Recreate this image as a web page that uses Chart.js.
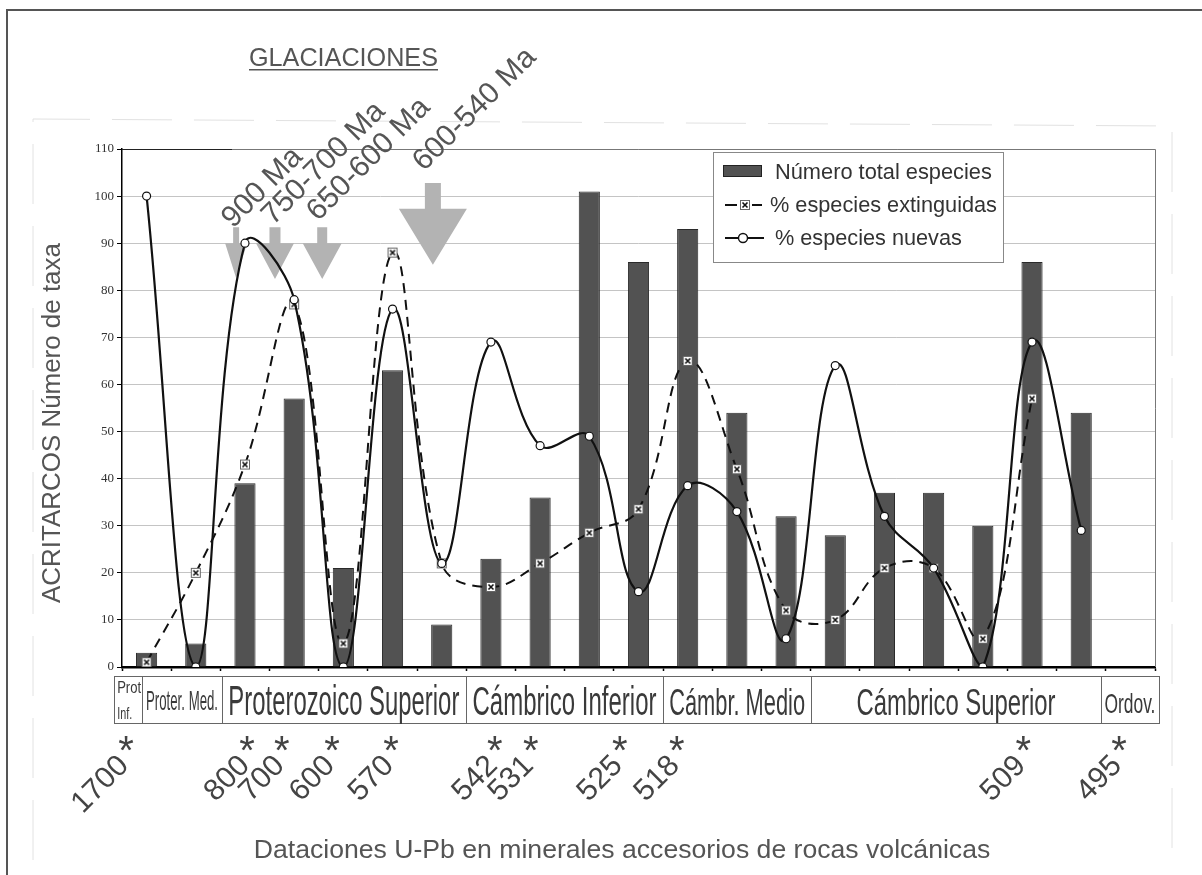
<!DOCTYPE html>
<html>
<head>
<meta charset="utf-8">
<script src="https://cdn.jsdelivr.net/npm/chart.js@4.4.0/dist/chart.umd.min.js"></script>
<style>
  html, body { margin: 0; padding: 0; background: #fff; }
</style>
</head>
<body>
<canvas id="chart_acritarcos" width="1202" height="875"></canvas>
<script>
// muestras (sin etiqueta en el eje)
const muestras = ["1","2","3","4","5","6","7","8","9","10","11","12","13","14","15","16","17","18","19","20","21"];

const totalEspecies = [3, 5, 39, 57, 21, 63, 9, 23, 36, 101, 86, 93, 54, 32, 28, 37, 37, 30, 86, 54, null];
const extinguidas   = [1, 20, 43, 77, 5, 88, 22, 17, 22, 28.5, 33.5, 65, 42, 12, 10, 21, 21, 6, 57, null, null];
const nuevas        = [100, 0, 90, 78, 0, 76, 22, 69, 47, 49, 16, 38.5, 33, 6, 64, 32, 21, 0, 69, 29, null];

const yTicks = [0, 10, 20, 30, 40, 50, 60, 70, 80, 90, 100, 110];

const periodos = ["Prot Inf.", "Proter. Med.", "Proterozoico Superior", "Cámbrico Inferior", "Cámbr. Medio", "Cámbrico Superior", "Ordov."];
const dataciones = ["1700", "800", "700", "600", "570", "542", "531", "525", "518", "509", "495"];
const glaciaciones = ["900 Ma", "750-700 Ma", "650-600 Ma", "600-540 Ma"];

// ---- posiciones de las anotaciones (en unidades de categoria / eje y) ----
const limitesPeriodo = [-0.66, -0.09, 1.53, 6.49, 10.5, 13.51, 19.40, 20.58];
const fuentePeriodo  = [17, 28, 42, 40, 36, 37, 28];
const anchoPeriodo   = [24, 72, 231, 184, 136, 199, 51];
const posDatacion    = [-0.42, 2.04, 2.75, 3.77, 4.97, 7.08, 7.81, 9.62, 10.78, 17.82, 19.77];
// flechas: x, semiancho del asta, semiancho de la punta, y arriba, y inicio punta, y punta
const flechas = [
  [1.82, 3, 11, 93.4, 90, 82.6],
  [2.61, 5.5, 19, 93.4, 90, 82.4],
  [3.57, 5, 19.5, 93.4, 90, 82.4],
  [5.82, 8, 34, 102.8, 97.3, 85.4]
];
const inicioGlaciacion = [[233, 229], [273, 226], [318, 222], [424, 172]];

const FAM = '"Liberation Sans", Arial, sans-serif';
const colorBarra = "#525252";

function marcaExtincion() {
  const c = document.createElement("canvas");
  c.width = 12; c.height = 12;
  const g = c.getContext("2d");
  g.fillStyle = "#fff";
  g.fillRect(1, 1, 10, 10);
  g.strokeStyle = "#666";
  g.lineWidth = 1;
  g.strokeRect(1.5, 1.5, 9, 9);
  g.strokeStyle = "#111";
  g.lineWidth = 1.6;
  g.beginPath();
  g.moveTo(3.5, 3.5); g.lineTo(8.5, 8.5);
  g.moveTo(8.5, 3.5); g.lineTo(3.5, 8.5);
  g.stroke();
  return c;
}
const marcaX = marcaExtincion();

function tamFuente(ctx, texto, ancho) {
  ctx.font = "100px " + FAM;
  return 100 * ancho / ctx.measureText(texto).width;
}

function textoComprimido(ctx, texto, x, y, size, ancho, align) {
  ctx.save();
  ctx.font = size + "px " + FAM;
  const w = ctx.measureText(texto).width;
  const k = Math.min(1, ancho / w);
  ctx.translate(x, y);
  ctx.scale(k, 1);
  ctx.textAlign = align || "center";
  ctx.textBaseline = "alphabetic";
  ctx.fillText(texto, 0, 0);
  ctx.restore();
}

const decoracion = {
  id: "decoracion",
  beforeDraw(chart) {
    const ctx = chart.ctx;
    ctx.save();
    ctx.fillStyle = "#fff";
    ctx.fillRect(0, 0, chart.width, chart.height);
    // marco exterior
    ctx.strokeStyle = "#555";
    ctx.lineWidth = 2;
    ctx.beginPath();
    ctx.moveTo(7, chart.height); ctx.lineTo(7, 10); ctx.lineTo(chart.width, 10);
    ctx.stroke();
    // restos del marco original (muy tenues)
    ctx.strokeStyle = "#e2e2e2";
    ctx.lineWidth = 1;
    ctx.setLineDash([60, 22]);
    ctx.beginPath();
    ctx.moveTo(33, 860); ctx.lineTo(33, 119); ctx.lineTo(1172, 126); ctx.lineTo(1172, 870);
    ctx.stroke();
    ctx.restore();
  },
  beforeDatasetsDraw(chart) {
    const ctx = chart.ctx, x = chart.scales.x, y = chart.scales.y, a = chart.chartArea;
    ctx.save();
    // borde del area de trazado
    ctx.strokeStyle = "#777";
    ctx.lineWidth = 1;
    ctx.beginPath();
    ctx.moveTo(a.left, a.top + 0.5); ctx.lineTo(a.right + 0.5, a.top + 0.5); ctx.lineTo(a.right + 0.5, a.bottom);
    ctx.stroke();
    ctx.strokeStyle = "#222";
    ctx.beginPath();
    ctx.moveTo(a.left, a.top + 0.5); ctx.lineTo(a.left + 110, a.top + 0.5);
    ctx.stroke();
    // flechas de glaciaciones
    ctx.fillStyle = "#b3b3b3";
    flechas.forEach(f => {
      const cx = x.getPixelForValue(f[0]);
      const y0 = y.getPixelForValue(f[3]), y1 = y.getPixelForValue(f[4]), y2 = y.getPixelForValue(f[5]);
      ctx.beginPath();
      ctx.moveTo(cx - f[1], y0); ctx.lineTo(cx + f[1], y0); ctx.lineTo(cx + f[1], y1);
      ctx.lineTo(cx + f[2], y1); ctx.lineTo(cx, y2); ctx.lineTo(cx - f[2], y1);
      ctx.lineTo(cx - f[1], y1); ctx.closePath();
      ctx.fill();
    });
    ctx.restore();
  },
  afterDraw(chart) {
    const ctx = chart.ctx, x = chart.scales.x;
    ctx.save();

    // GLACIACIONES
    ctx.fillStyle = "#555";
    let s = tamFuente(ctx, "GLACIACIONES", 189);
    ctx.font = s + "px " + FAM;
    ctx.textAlign = "left";
    ctx.textBaseline = "alphabetic";
    ctx.fillText("GLACIACIONES", 249, 66);
    ctx.fillRect(249, 69, 189, 1.5);

    // etiquetas de glaciaciones
    ctx.font = "30px " + FAM;
    glaciaciones.forEach((t, i) => {
      ctx.save();
      ctx.translate(inicioGlaciacion[i][0], inicioGlaciacion[i][1]);
      ctx.rotate(-Math.PI / 4);
      ctx.fillText(t, 0, 0);
      ctx.restore();
    });

    // leyenda
    const L = { x: 713.5, y: 152.5, w: 290, h: 110 };
    ctx.fillStyle = "#fff";
    ctx.fillRect(L.x, L.y, L.w, L.h);
    ctx.strokeStyle = "#888";
    ctx.lineWidth = 1;
    ctx.strokeRect(L.x, L.y, L.w, L.h);
    ctx.fillStyle = colorBarra;
    ctx.fillRect(723, 165, 39, 12);
    ctx.strokeStyle = "#222";
    ctx.strokeRect(723.5, 165.5, 38, 11);
    ctx.strokeStyle = "#111";
    ctx.lineWidth = 2;
    ctx.beginPath(); ctx.moveTo(725, 205); ctx.lineTo(737, 205); ctx.moveTo(752, 205); ctx.lineTo(762, 205); ctx.stroke();
    ctx.drawImage(marcaX, 739, 199);
    ctx.beginPath(); ctx.moveTo(725, 238); ctx.lineTo(764, 238); ctx.stroke();
    ctx.beginPath(); ctx.arc(743, 238, 4.5, 0, Math.PI * 2);
    ctx.fillStyle = "#fff"; ctx.fill(); ctx.lineWidth = 1.4; ctx.stroke();
    const leyenda = [["Número total especies", 775, 179, 217], ["% especies extinguidas", 770, 212, 227], ["% especies nuevas", 775, 245, 187]];
    ctx.fillStyle = "#333";
    ctx.textAlign = "left";
    leyenda.forEach(l => {
      ctx.font = tamFuente(ctx, l[0], l[3]) + "px " + FAM;
      ctx.fillText(l[0], l[1], l[2]);
    });

    // franja de periodos
    ctx.strokeStyle = "#666";
    ctx.lineWidth = 1;
    ctx.fillStyle = "#3a3a3a";
    for (let i = 0; i < periodos.length; i++) {
      const x0 = x.getPixelForValue(limitesPeriodo[i]);
      const x1 = x.getPixelForValue(limitesPeriodo[i + 1]);
      ctx.strokeRect(Math.round(x0) + 0.5, 676.5, Math.round(x1 - x0), 47);
      if (i === 0) {
        const partes = periodos[0].split(" ");
        textoComprimido(ctx, partes[0], x0 + 3, 693, fuentePeriodo[0], anchoPeriodo[0], "left");
        textoComprimido(ctx, partes[1], x0 + 3, 719, fuentePeriodo[0], 15, "left");
      } else {
        const base = i === 1 ? 710 : (i === 6 ? 713 : 715);
        textoComprimido(ctx, periodos[i], (x0 + x1) / 2, base, fuentePeriodo[i], anchoPeriodo[i]);
      }
    }

    // dataciones U-Pb
    ctx.fillStyle = "#444";
    dataciones.forEach((t, i) => {
      const ax = x.getPixelForValue(posDatacion[i]);
      ctx.font = "40px " + FAM;
      ctx.textAlign = "center";
      ctx.fillText("*", ax, 764);
      ctx.font = "30px " + FAM;
      ctx.save();
      ctx.translate(ax + 4, 767);
      ctx.rotate(-Math.PI / 4);
      ctx.textAlign = "right";
      ctx.fillText(t, 0, 0);
      ctx.restore();
    });

    // titulos de ejes
    ctx.fillStyle = "#555";
    const tx = "Dataciones U-Pb en minerales accesorios de rocas volcánicas";
    ctx.font = tamFuente(ctx, tx, 737) + "px " + FAM;
    ctx.textAlign = "center";
    ctx.fillText(tx, 622, 858);
    const ty = "ACRITARCOS Número de taxa";
    ctx.save();
    ctx.translate(60, 423);
    ctx.rotate(-Math.PI / 2);
    ctx.font = tamFuente(ctx, ty, 360) + "px " + FAM;
    ctx.fillText(ty, 0, 0);
    ctx.restore();

    ctx.restore();
  }
};

new Chart(document.getElementById("chart_acritarcos"), {
  type: "bar",
  data: {
    labels: muestras,
    datasets: [
      {
        type: "line",
        label: "% especies nuevas",
        data: nuevas,
        borderColor: "#111",
        borderWidth: 2.2,
        tension: 0.4,
        pointStyle: "circle",
        pointRadius: 4,
        pointBackgroundColor: "#fff",
        pointBorderColor: "#111",
        pointBorderWidth: 1.2,
        order: 0
      },
      {
        type: "line",
        label: "% especies extinguidas",
        data: extinguidas,
        borderColor: "#111",
        borderWidth: 2,
        borderDash: [10, 7],
        tension: 0.4,
        pointStyle: marcaX,
        pointRadius: 6,
        order: 1
      },
      {
        type: "bar",
        label: "Número total especies",
        data: totalEspecies,
        backgroundColor: colorBarra,
        borderColor: "#2a2a2a",
        borderWidth: 1,
        barPercentage: 0.43,
        categoryPercentage: 1,
        order: 2
      }
    ]
  },
  options: {
    responsive: false,
    animation: false,
    layout: { padding: { left: 0, right: 47, top: 149, bottom: 203 } },
    plugins: {
      legend: { display: false },
      tooltip: { enabled: false }
    },
    scales: {
      x: {
        grid: { display: true, drawOnChartArea: false, offset: true, tickLength: 4, tickColor: "#000", tickWidth: 1.5 },
        border: { color: "#000", width: 2.5 },
        ticks: { display: false },
        afterFit(s) { s.height = 5; }
      },
      y: {
        min: 0,
        max: 110,
        afterBuildTicks(s) { s.ticks = yTicks.map(v => ({ value: v })); },
        ticks: { font: { family: "Liberation Serif", size: 13 }, color: "#333", padding: 3 },
        grid: { color: "#c4c4c4", tickColor: "#000", tickLength: 5, lineWidth: 1 },
        border: { color: "#000", width: 1.5 },
        afterFit(s) { s.width = 122; }
      }
    }
  },
  plugins: [decoracion]
});
</script>
</body>
</html>
